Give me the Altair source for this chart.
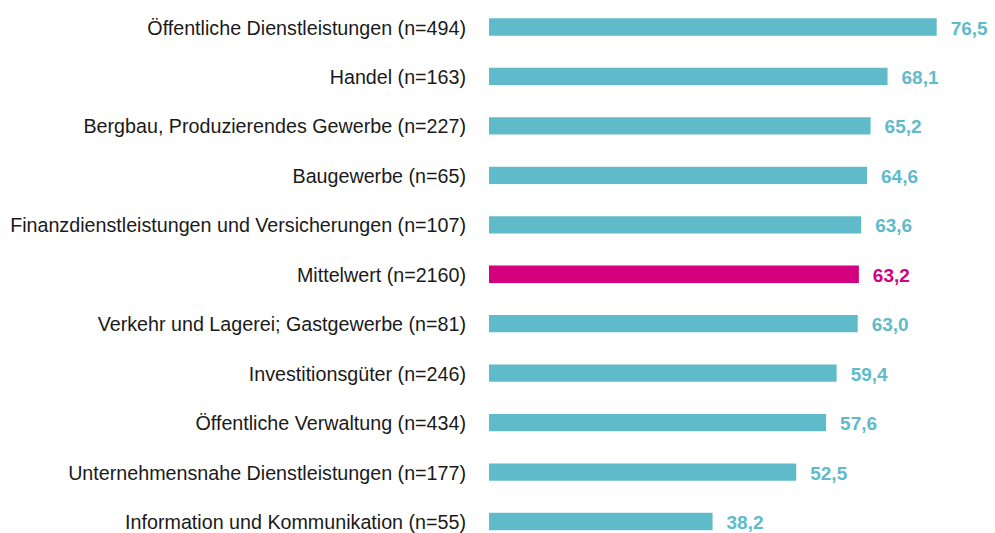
import altair as alt
import pandas as pd

categories = [
    "Öffentliche Dienstleistungen (n=494)",
    "Handel (n=163)",
    "Bergbau, Produzierendes Gewerbe (n=227)",
    "Baugewerbe (n=65)",
    "Finanzdienstleistungen und Versicherungen (n=107)",
    "Mittelwert (n=2160)",
    "Verkehr und Lagerei; Gastgewerbe (n=81)",
    "Investitionsgüter (n=246)",
    "Öffentliche Verwaltung (n=434)",
    "Unternehmensnahe Dienstleistungen (n=177)",
    "Information und Kommunikation (n=55)",
]
values = [76.5, 68.1, 65.2, 64.6, 63.6, 63.2, 63.0, 59.4, 57.6, 52.5, 38.2]
value_labels = ["76,5", "68,1", "65,2", "64,6", "63,6", "63,2", "63,0", "59,4", "57,6", "52,5", "38,2"]
groups = ["Branche"] * 5 + ["Mittelwert"] + ["Branche"] * 5

df = pd.DataFrame({
    "cat": categories,
    "value": values,
    "label": value_labels,
    "group": groups,
})

color = alt.Color(
    "group:N",
    scale=alt.Scale(domain=["Branche", "Mittelwert"], range=["#5FBBCA", "#D4007D"]),
    legend=None,
)
y = alt.Y("cat:N", sort=categories, axis=None,
          scale=alt.Scale(paddingInner=0.65, paddingOuter=0))
x = alt.X("value:Q", axis=None, scale=alt.Scale(domain=[0, 80]))

bars = alt.Chart(df).mark_bar().encode(x=x, y=y, color=color)

vals = alt.Chart(df).mark_text(
    align="left", baseline="alphabetic", dx=14, dy=7.5,
    font="Liberation Sans", fontSize=19, fontWeight="bold",
).encode(x=x, y=y, text="label:N", color=color)

cats = alt.Chart(df).mark_text(
    align="right", baseline="alphabetic", dy=7.5,
    font="Liberation Sans", fontSize=19.7, color="#1a1a1a",
).encode(x=alt.value(-23), y=y, text="cat:N")

chart = alt.layer(bars, vals, cats).properties(
    width=468.2,
    height=511.8,
    autosize=alt.AutoSizeParams(type="none"),
    padding={"left": 481, "top": 10.35, "right": 29.8, "bottom": 10},
).configure_view(stroke=None)

chart.save("out.html", embed_options={"renderer": "svg", "actions": False})
